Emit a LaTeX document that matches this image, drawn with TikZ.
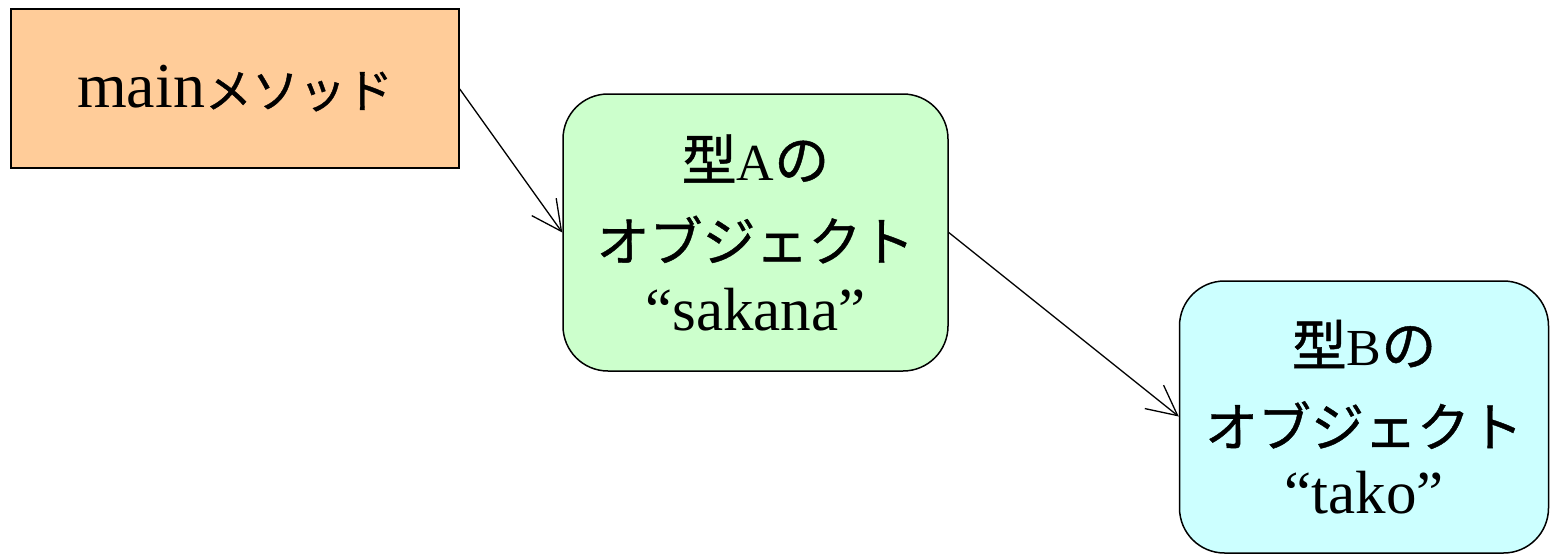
\documentclass[tikz,border=0pt]{standalone}
\usepackage{fontspec}
\setmainfont{Liberation Serif}
\newfontfamily\jp[FakeBold=0.8]{Noto Sans CJK JP}
\usetikzlibrary{arrows.meta}
\definecolor{mainfill}{HTML}{FFCC99}
\definecolor{afill}{HTML}{CCFFCC}
\definecolor{bfill}{HTML}{CCFFFF}
\begin{document}
\begin{tikzpicture}[x=1pt,y=-1pt,
  boxline/.style={draw=black,line width=1.5pt,inner sep=0pt,align=center},
  objbox/.style={boxline,rounded corners=45pt,
     font={\fontsize{61}{81}\selectfont}},
  conn/.style={line width=1.3pt,-{Straight Barb[length=30pt,width=30pt,line width=1.3pt]}}]
\useasboundingbox (0,0) rectangle (1550,555);
\node[boxline,fill=mainfill,minimum width=448pt,minimum height=159pt,
  font={\fontsize{64}{70}\selectfont}] (main) at (235,88.5)
  {main{\jp\fontsize{47}{70}\selectfont メソッド}};
\node[objbox,fill=afill,minimum width=385pt,minimum height=277pt] (a) at (755.5,232.5)
  {{\jp\fontsize{55}{81}\selectfont 型}{\fontsize{52}{81}\selectfont A}{\jp\fontsize{55}{81}\selectfont の}\\
   {\jp\fontsize{53}{81}\selectfont オブジェクト}\\[-12pt]
   “sakana”};
\node[objbox,fill=bfill,minimum width=369pt,minimum height=272pt] (b) at (1364,417)
  {{\jp\fontsize{55}{81}\selectfont 型}{\fontsize{52}{81}\selectfont B}{\jp\fontsize{55}{81}\selectfont の}\\
   {\jp\fontsize{53}{81}\selectfont オブジェクト}\\[-14pt]
   “tako”};
\draw[conn] ([yshift=-0.5pt]main.east) -- (a.west);
\draw[conn] (a.east) -- ([yshift=0.5pt]b.west);
\end{tikzpicture}
\end{document}
